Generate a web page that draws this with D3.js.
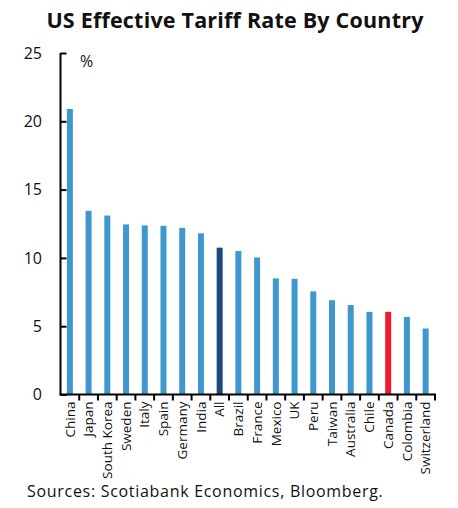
<!DOCTYPE html>
<html>
<head>
<meta charset="utf-8">
<script src="https://cdn.jsdelivr.net/npm/d3@7"></script>
<style>
  html, body { margin: 0; padding: 0; background: #fff; }
  svg { display: block; font-family: "Open Sans", "DejaVu Sans", sans-serif; }
</style>
</head>
<body>
<svg id="chart" width="458" height="508"></svg>
<script>
// Effective US tariff rate (%) by trading partner
const countries = ["China", "Japan", "South Korea", "Sweden", "Italy", "Spain", "Germany", "India", "All",
  "Brazil", "France", "Mexico", "UK", "Peru", "Taiwan", "Australia", "Chile", "Canada", "Colombia", "Switzerland"];
const rates = [20.9, 13.45, 13.1, 12.45, 12.38, 12.35, 12.2, 11.8, 10.75,
  10.5, 10.03, 8.5, 8.47, 7.55, 6.9, 6.55, 6.05, 6.05, 5.68, 4.83];
const yTicks = [0, 5, 10, 15, 20, 25];

const barColor = d => d === "All" ? "#1e497c" : d === "Canada" ? "#ec1c2e" : "#3f98cd";

const svg = d3.select("#chart");
const margin = { left: 60.5, right: 23, top: 53, bottom: 113.5 };
const W = 458, H = 508;

const x = d3.scaleBand()
  .domain(countries)
  .range([margin.left, W - margin.right])
  .paddingInner(0)
  .paddingOuter(0);

const y = d3.scaleLinear()
  .domain([0, 25])
  .range([H - margin.bottom, margin.top]);

// Title
svg.append("text")
  .attr("x", 235)
  .attr("y", 28)
  .attr("text-anchor", "middle")
  .attr("font-size", 21.5)
  .attr("font-weight", 700)
  .attr("letter-spacing", 0.2)
  .attr("fill", "#111")
  .text("US Effective Tariff Rate By Country");

// Bars
const barW = 6;
svg.append("g")
  .selectAll("rect")
  .data(countries)
  .join("rect")
  .attr("x", d => x(d) + x.bandwidth() / 2 - barW / 2)
  .attr("width", barW)
  .attr("y", (d, i) => y(rates[i]))
  .attr("height", (d, i) => y(0) - y(rates[i]))
  .attr("fill", barColor);

// Y axis: ticks pointing into the plot
const yAxis = svg.append("g")
  .attr("transform", `translate(${margin.left},0)`)
  .call(d3.axisRight(y).tickValues(yTicks).tickSize(6).tickFormat(""));
yAxis.select(".domain").attr("stroke", "#000").attr("stroke-width", 2)
  .attr("d", `M0,${y(25)}V${y(0)}`);
yAxis.selectAll(".tick line").attr("stroke", "#000").attr("stroke-width", 2);

svg.append("g")
  .selectAll("text")
  .data(yTicks)
  .join("text")
  .attr("x", 42)
  .attr("y", d => y(d))
  .attr("dy", "0.36em")
  .attr("text-anchor", "end")
  .attr("font-size", 16)
  .attr("fill", "#111")
  .text(d => d);

// Unit label
svg.append("text")
  .attr("x", 80)
  .attr("y", 67)
  .attr("font-size", 16)
  .attr("fill", "#111")
  .text("%");

// X axis with ticks at category boundaries
const xAxisG = svg.append("g")
  .attr("transform", `translate(0,${y(0)})`);
xAxisG.append("line")
  .attr("x1", margin.left - 1)
  .attr("x2", W - margin.right + 1)
  .attr("stroke", "#000")
  .attr("stroke-width", 2);
const bounds = countries.map(d => x(d)).concat([x(countries[countries.length - 1]) + x.bandwidth()]);
xAxisG.selectAll("line.tick")
  .data(bounds.slice(1))
  .join("line")
  .attr("class", "tick")
  .attr("x1", d => d)
  .attr("x2", d => d)
  .attr("y1", 0)
  .attr("y2", 6)
  .attr("stroke", "#000")
  .attr("stroke-width", 2);

// Category labels, rotated
svg.append("g")
  .selectAll("text")
  .data(countries)
  .join("text")
  .attr("transform", d => `translate(${x(d) + x.bandwidth() / 2},${y(0) + 7}) rotate(-90)`)
  .attr("dy", "0.35em")
  .attr("text-anchor", "end")
  .attr("font-size", 13.5)
  .attr("fill", "#111")
  .text(d => d);

// Source note
svg.append("text")
  .attr("x", 27)
  .attr("y", 497)
  .attr("font-size", 16)
  .attr("letter-spacing", 0.7)
  .attr("fill", "#111")
  .text("Sources: Scotiabank Economics, Bloomberg.");
</script>
</body>
</html>
